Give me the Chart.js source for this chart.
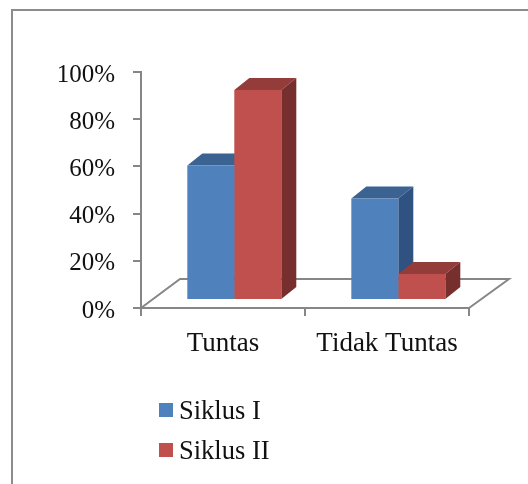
<!DOCTYPE html>
<html>
<head>
<meta charset="utf-8">
<style>
  html, body { margin: 0; padding: 0; background: #fff; }
  #frame { position: absolute; left: 11px; top: 9px; right: 0; bottom: 0;
           border-left: 2px solid #8c8c8c; border-top: 2px solid #8c8c8c; }
  canvas { position: absolute; left: 0; top: 0; display: block; }
</style>
<script src="https://cdn.jsdelivr.net/npm/chart.js@4"></script>
</head>
<body>
<div id="frame"></div>
<canvas id="chart" width="528" height="484"></canvas>
<script>
const categories = ['Tuntas', 'Tidak Tuntas'];
const siklusI = [57, 43];
const siklusII = [89, 11];
const seriesNames = ['Siklus I', 'Siklus II'];
const seriesColors = ['#4F81BD', '#C0504D'];
const topColors = ['#3B6392', '#943C3A'];
const sideColors = ['#2F5280', '#772F2D'];

const AXIS = '#868686';
const SERIF = '"Liberation Serif", "Times New Roman", serif';
const FLOOR_DX = 39, FLOOR_DY = 29;   // depth of the floor
const BAR_DX = 15, BAR_DY = 12;       // depth of a bar
const SHIFT_X = 11.3, SHIFT_Y = 8;    // bars stand inside the floor
const Y_LABEL_DROP = 3;

function poly(ctx, pts, fill) {
  ctx.beginPath();
  pts.forEach((p, i) => i ? ctx.lineTo(p[0], p[1]) : ctx.moveTo(p[0], p[1]));
  ctx.closePath();
  ctx.fillStyle = fill;
  ctx.fill();
}

const box3d = {
  id: 'box3d',
  beforeDraw(chart) {
    // percent labels sit a little below their tick marks
    chart.scales.y.getLabelItems(chart.chartArea).forEach(item => {
      if (!item.dropped) {
        item.options.translation[1] += Y_LABEL_DROP;
        item.dropped = true;
      }
    });
  },
  // floor outline and every top/side face, all behind the front faces
  beforeDatasetsDraw(chart) {
    const { ctx, chartArea: a } = chart;
    ctx.save();
    ctx.strokeStyle = AXIS;
    ctx.lineWidth = 2;
    ctx.beginPath();
    ctx.moveTo(a.left, a.bottom);
    ctx.lineTo(a.left + FLOOR_DX, a.bottom - FLOOR_DY);
    ctx.lineTo(a.right + FLOOR_DX + 1, a.bottom - FLOOR_DY);
    ctx.lineTo(a.right, a.bottom);
    ctx.stroke();
    ctx.translate(SHIFT_X, -SHIFT_Y);
    chart.data.datasets.forEach((ds, i) => {
      chart.getDatasetMeta(i).data.forEach(bar => {
        const l = bar.x - bar.width / 2, r = bar.x + bar.width / 2;
        const t = bar.y, b = bar.base;
        poly(ctx, [[l, t], [l + BAR_DX, t - BAR_DY], [r + BAR_DX, t - BAR_DY], [r, t]], topColors[i]);
        poly(ctx, [[r, t], [r + BAR_DX, t - BAR_DY], [r + BAR_DX, b - BAR_DY], [r, b]], sideColors[i]);
      });
    });
    ctx.restore();
  },
  beforeDatasetDraw(chart) {
    chart.ctx.save();
    chart.ctx.translate(SHIFT_X, -SHIFT_Y);
  },
  afterDatasetDraw(chart) {
    chart.ctx.restore();
  },
  // two-row legend under the plot
  afterDraw(chart) {
    const { ctx } = chart;
    ctx.save();
    ctx.font = '26.5px ' + SERIF;
    ctx.textBaseline = 'middle';
    chart.data.datasets.forEach((ds, i) => {
      const y = 410 + i * 40;
      ctx.fillStyle = ds.backgroundColor;
      ctx.fillRect(159, y - 7, 14, 14);
      ctx.fillStyle = '#111';
      ctx.fillText(ds.label, 179, y + 2);
    });
    ctx.restore();
  }
};

new Chart(document.getElementById('chart'), {
  type: 'bar',
  data: {
    labels: categories,
    datasets: [
      { label: seriesNames[0], data: siklusI, backgroundColor: seriesColors[0] },
      { label: seriesNames[1], data: siklusII, backgroundColor: seriesColors[1] }
    ]
  },
  options: {
    responsive: false,
    animation: false,
    layout: { padding: { top: 72, right: 59, left: 0, bottom: 0 } },
    plugins: { legend: { display: false }, tooltip: { enabled: false } },
    datasets: { bar: { categoryPercentage: 0.573, barPercentage: 1, borderWidth: 0 } },
    scales: {
      x: {
        afterFit(s) { s.height = 176; },
        grid: { drawOnChartArea: false, drawTicks: true, tickLength: 8, color: AXIS, lineWidth: 2 },
        border: { color: AXIS, width: 2 },
        ticks: { color: '#111', padding: 12, maxRotation: 0, font: { family: SERIF, size: 27 } }
      },
      y: {
        min: 0, max: 100,
        afterFit(s) { s.width = 141; },
        grid: { drawOnChartArea: false, drawTicks: true, tickLength: 8, color: AXIS, lineWidth: 2 },
        border: { color: AXIS, width: 2 },
        ticks: { stepSize: 20, color: '#111', padding: 18, callback: v => v + '%', font: { family: SERIF, size: 25 } }
      }
    }
  },
  plugins: [box3d]
});
</script>
</body>
</html>
